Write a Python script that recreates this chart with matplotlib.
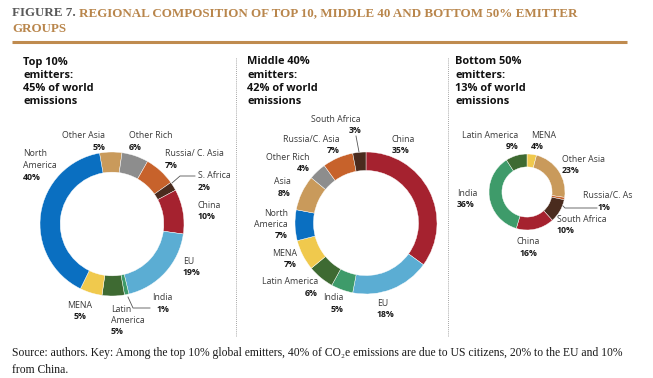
import numpy as np
import matplotlib.pyplot as plt

W, H = 653, 378

# colour per region key
COLORS = {
    "na": "#0a6fc1", "asia": "#c99a5b", "rich": "#8d8d8d", "russia": "#c7622b",
    "safrica": "#4a2b1e", "china": "#a5222f", "eu": "#5badd3", "india": "#3e9b6a",
    "latam": "#3e6a32", "mena": "#f0c94d",
}

# Top 10% emitters, clockwise
top_keys = ["asia", "rich", "russia", "safrica", "china", "eu", "india", "latam", "mena", "na"]
top_names = ["Other Asia", "Other Rich", "Russia/ C. Asia", "S. Africa", "China", "EU",
             "India", "Latin\nAmerica", "MENA", "North\nAmerica"]
top_shares = [5, 6, 7, 2, 10, 19, 1, 5, 5, 40]

# Middle 40% emitters, clockwise from 12 o'clock
mid_keys = ["china", "eu", "india", "latam", "mena", "na", "asia", "rich", "russia", "safrica"]
mid_names = ["China", "EU", "India", "Latin America", "MENA", "North\nAmerica", "Asia",
             "Other Rich", "Russia/C. Asia", "South Africa"]
mid_shares = [35, 18, 5, 6, 7, 7, 8, 4, 7, 3]

# Bottom 50% emitters, clockwise from 12 o'clock
bot_keys = ["mena", "asia", "russia", "safrica", "china", "india", "latam"]
bot_names = ["MENA", "Other Asia", "Russia/C. As", "South Africa", "China", "India", "Latin America"]
bot_shares = [4, 23, 1, 10, 16, 36, 9]

panel_titles = ["Top 10%\nemitters:\n45% of world\nemissions",
                "Middle 40%\nemitters:\n42% of world\nemissions",
                "Bottom 50%\nemitters:\n13% of world\nemissions"]

# label placement (pixel x, y of first line, alignment), same order as the data
top_lab = [(83, 136, "center"), (129, 136, "left"), (165, 154, "left"), (198, 176, "left"),
           (198, 205, "left"), (183, 261, "left"), (152, 298, "left"), (111, 309, "left"),
           (80, 305, "center"), (23, 154, "left")]
mid_lab = [(392, 139, "left"), (377, 303, "left"), (343, 298, "right"), (318, 282, "right"),
           (297, 253, "right"), (288, 213, "right"), (291, 182, "right"), (310, 157, "right"),
           (340, 139, "right"), (336, 119, "center")]
bot_lab = [(531, 135, "left"), (562, 159, "left"), (583, 196, "left"), (557, 219, "left"),
           (528, 242, "center"), (457, 193, "left"), (518, 135, "right")]

SANS = ["Open Sans", "DejaVu Sans"]
SERIF = ["Liberation Serif", "DejaVu Serif"]
LS = 11.5

fig = plt.figure(figsize=(W / 100, H / 100), dpi=100)
bg = fig.add_axes([0, 0, 1, 1])
bg.set_xlim(0, W)
bg.set_ylim(H, 0)
bg.axis("off")


def donut(cx, cy, r, shares, keys, width, start):
    ax = fig.add_axes([(cx - r - 1) / W, 1 - (cy + r + 1) / H, 2 * (r + 1) / W, 2 * (r + 1) / H])
    ax.pie(shares, colors=[COLORS[k] for k in keys], startangle=start, counterclock=False,
           radius=r / (r + 1), wedgeprops=dict(width=width * r / (r + 1), edgecolor="white", linewidth=0.3))
    ax.set_xlim(-1, 1)
    ax.set_ylim(-1, 1)
    ax.set_aspect("equal")
    ax.axis("off")


def labels(names, shares, pos, pct_dx=None):
    for i, (name, v, (x, y, ha)) in enumerate(zip(names, shares, pos)):
        lines = name.split("\n")
        for j, ln in enumerate(lines):
            bg.text(x, y + j * LS, ln, ha=ha, va="center", fontsize=6.3, color="#3a3a3a", family=SANS)
        dx = pct_dx.get(i, 0) if pct_dx else 0
        bg.text(x + dx, y + len(lines) * LS, f"{v}%", ha=ha, va="center", fontsize=6.3,
                fontweight="bold", color="#1a1a1a", family=SANS)


donut(112, 224, 72, top_shares, top_keys, 0.28, 100)
donut(366, 223, 71, mid_shares, mid_keys, 0.26, 90)
donut(527, 192, 38, bot_shares, bot_keys, 0.34, 90)

labels(top_names, top_shares, top_lab, {0: 16, 6: 5})
labels(mid_names, mid_shares, mid_lab, {9: 19})
labels(bot_names, bot_shares, bot_lab, {2: 15})

# leader lines
bg.plot([172, 180, 195], [183, 176, 176], color="#555555", lw=0.6)
bg.plot([128, 133, 150], [297, 308, 308], color="#555555", lw=0.6)
bg.plot([356, 359], [136, 152], color="#555555", lw=0.6)
bg.plot([560, 565, 597], [203, 208, 208], color="#555555", lw=0.6)

# panel headers
for x, t in zip([23, 247, 455], panel_titles):
    for j, ln in enumerate(t.split("\n")):
        bg.text(x, 62 + j * 13.3, ln, ha="left", va="center", fontsize=7.9, fontweight="bold",
                color="#111111", family=SANS)

# dotted separators
for x in [236, 448]:
    bg.plot([x, x], [58, 336], color="#888888", lw=0.6, ls=(0, (1, 1.5)))

# title and rule
t1 = bg.text(12, 13, "FIGURE 7. ", ha="left", va="center", fontsize=9.4, fontweight="bold",
             color="#595959", family=SERIF)
fig.canvas.draw()
bb = t1.get_window_extent().transformed(bg.transData.inverted())
bg.text(bb.x1, 13, "REGIONAL COMPOSITION OF TOP 10, MIDDLE 40 AND BOTTOM 50% EMITTER",
        ha="left", va="center", fontsize=9.4, fontweight="bold", color="#b9864c", family=SERIF)
bg.text(12, 29, "GROUPS", ha="left", va="center", fontsize=9.4, fontweight="bold",
        color="#b9864c", family=SERIF)
bg.plot([12, 627], [42, 42], color="#bf8b4f", lw=2.2, solid_capstyle="butt")

# source note
bg.text(12, 353, "Source: authors. Key: Among the top 10% global emitters, 40% of CO\u2082e emissions "
        "are due to US citizens, 20% to the EU and 10%", ha="left", va="center", fontsize=8.4,
        color="#1a1a1a", family=SERIF)
bg.text(12, 370, "from China.", ha="left", va="center", fontsize=8.4, color="#1a1a1a", family=SERIF)

fig.savefig("out.png", dpi=100)
